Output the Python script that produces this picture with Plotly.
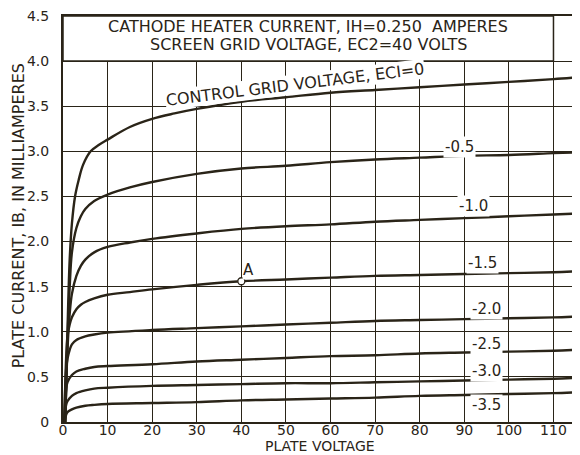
import plotly.graph_objects as go

# Plate voltage sample points (volts) for each control-grid curve
x_ec0 = [0.5, 1.0, 1.5, 2.0, 2.7, 3.5, 4.5, 6.2, 8, 10, 15, 20, 25, 30, 40, 50, 60, 70, 80, 90, 100, 110, 115.5]
y_ec0 = [0.0, 1.0, 1.8, 2.2, 2.5, 2.68, 2.85, 3.0, 3.07, 3.13, 3.27, 3.36, 3.42, 3.47, 3.55, 3.6, 3.65, 3.68, 3.71, 3.74, 3.77, 3.8, 3.82]

x_ec05 = [0.5, 1.0, 1.5, 2, 3, 4, 5, 7, 10, 15, 20, 30, 40, 50, 60, 70, 80, 90, 100, 110, 115.5]
y_ec05 = [0.0, 0.9, 1.5, 1.88, 2.15, 2.28, 2.36, 2.45, 2.52, 2.6, 2.66, 2.75, 2.81, 2.84, 2.88, 2.91, 2.93, 2.95, 2.96, 2.98, 2.99]

x_ec10 = [0.5, 1, 1.5, 2, 3, 4, 5, 7, 10, 15, 20, 30, 40, 50, 60, 70, 80, 90, 100, 110, 115.5]
y_ec10 = [0.0, 0.8, 1.2, 1.42, 1.62, 1.73, 1.8, 1.88, 1.94, 1.99, 2.03, 2.09, 2.14, 2.17, 2.19, 2.22, 2.24, 2.26, 2.28, 2.3, 2.31]

x_ec15 = [0.3, 0.7, 1, 1.5, 2, 3, 4, 5, 7, 10, 15, 20, 30, 40, 50, 60, 70, 80, 90, 100, 110, 115.5]
y_ec15 = [0.0, 0.7, 0.95, 1.08, 1.16, 1.25, 1.3, 1.33, 1.37, 1.41, 1.44, 1.47, 1.52, 1.56, 1.58, 1.6, 1.62, 1.63, 1.64, 1.65, 1.66, 1.67]

x_ec20 = [0.3, 0.7, 1, 1.5, 2, 3, 5, 7, 10, 20, 30, 40, 50, 60, 70, 80, 90, 100, 110, 115.5]
y_ec20 = [0.0, 0.58, 0.7, 0.8, 0.86, 0.91, 0.95, 0.97, 0.99, 1.02, 1.04, 1.06, 1.08, 1.1, 1.12, 1.13, 1.14, 1.15, 1.16, 1.17]

x_ec25 = [0.3, 0.7, 1, 2, 3, 5, 7, 10, 20, 30, 40, 50, 60, 70, 80, 90, 100, 110, 115.5]
y_ec25 = [0.0, 0.36, 0.44, 0.52, 0.56, 0.59, 0.61, 0.62, 0.64, 0.67, 0.69, 0.71, 0.73, 0.74, 0.76, 0.77, 0.78, 0.79, 0.8]

x_ec30 = [0.3, 0.7, 1, 2, 3, 5, 7, 10, 20, 30, 40, 50, 60, 70, 80, 90, 100, 110, 115.5]
y_ec30 = [0.0, 0.19, 0.23, 0.29, 0.32, 0.35, 0.37, 0.38, 0.4, 0.41, 0.42, 0.43, 0.43, 0.44, 0.45, 0.46, 0.47, 0.48, 0.49]

x_ec35 = [0.3, 0.7, 1, 2, 3, 5, 7, 10, 20, 30, 40, 50, 60, 70, 80, 90, 100, 110, 115.5]
y_ec35 = [0.0, 0.08, 0.11, 0.14, 0.16, 0.18, 0.19, 0.2, 0.21, 0.22, 0.24, 0.25, 0.26, 0.27, 0.29, 0.3, 0.31, 0.32, 0.33]

curves = [
    (x_ec0, y_ec0), (x_ec05, y_ec05), (x_ec10, y_ec10), (x_ec15, y_ec15),
    (x_ec20, y_ec20), (x_ec25, y_ec25), (x_ec30, y_ec30), (x_ec35, y_ec35),
]

# Curve labels: text, x, y
label_texts = ["-0.5", "-1.0", "-1.5", "-2.0", "-2.5", "-3.0", "-3.5"]
label_x = [89, 92, 94, 95, 95, 95, 95]
label_y = [3.05, 2.39, 1.76, 1.25, 0.87, 0.57, 0.19]

# Point A
point_a_x = [40]
point_a_y = [1.56]

x_ticks = [0, 10, 20, 30, 40, 50, 60, 70, 80, 90, 100, 110]
y_ticks = [0, 0.5, 1.0, 1.5, 2.0, 2.5, 3.0, 3.5, 4.0, 4.5]
y_tick_text = ["0", "0.5", "1.0", "1.5", "2.0", "2.5", "3.0", "3.5", "4.0", "4.5"]

title_line1 = "CATHODE HEATER CURRENT, IH=0.250  AMPERES"
title_line2 = "SCREEN GRID VOLTAGE, EC2=40 VOLTS"
curve0_label = "CONTROL GRID VOLTAGE, ECI=0"
x_title = "PLATE VOLTAGE"
y_title = "PLATE CURRENT, IB, IN MILLIAMPERES"

INK = "#2a2418"
FONT = "DejaVu Sans"

fig = go.Figure()
for xs, ys in curves:
    fig.add_trace(go.Scatter(x=xs, y=ys, mode="lines", line=dict(color=INK, width=2.4, shape="spline", smoothing=1.0),
                             hoverinfo="skip", showlegend=False))

fig.add_trace(go.Scatter(x=point_a_x, y=point_a_y, mode="markers",
                         marker=dict(symbol="circle", size=7, color="white", line=dict(color=INK, width=1.3)),
                         showlegend=False, hoverinfo="skip"))

# The page body has an 8px margin, so the figure is sized/margined to land the plot at the reference position
fig.update_layout(
    width=572, height=447,
    margin=dict(l=55, r=2, t=8, b=33),
    paper_bgcolor="white", plot_bgcolor="white",
    font=dict(family=FONT, color=INK, size=13),
    xaxis=dict(range=[0, 115.5], tickvals=x_ticks, showgrid=True, gridcolor=INK, gridwidth=1.3,
               showline=True, linecolor=INK, linewidth=2, mirror=True, zeroline=False, automargin=False,
               ticks="", ticklen=0, ticklabelstandoff=-6, ticklabeloverflow="allow",
               tickfont=dict(size=14, family=FONT, color=INK)),
    yaxis=dict(range=[0, 4.5], tickvals=y_ticks, ticktext=y_tick_text, showgrid=True, gridcolor=INK, gridwidth=1.3,
               showline=True, linecolor=INK, linewidth=2, mirror=True, zeroline=False, automargin=False,
               ticks="", ticklen=0, ticklabelstandoff=9, ticklabeloverflow="allow",
               tickfont=dict(size=14, family=FONT, color=INK)),
)

# Axis titles
fig.add_annotation(x=0.499, y=-0.06, xref="paper", yref="paper", text=x_title, showarrow=False,
                   yanchor="middle", font=dict(size=14, family=FONT, color=INK))
fig.add_annotation(x=-0.087, y=0.507, xref="paper", yref="paper", text=y_title, showarrow=False,
                   textangle=-90, xanchor="center", font=dict(size=16, family=FONT, color=INK))

# Title box
fig.add_shape(type="rect", x0=0, x1=110, y0=4.0, y1=4.5, xref="x", yref="y",
              fillcolor="white", line=dict(color=INK, width=1.5), layer="above")
fig.add_annotation(x=55, y=4.385, xref="x", yref="y", text=title_line1, showarrow=False,
                   font=dict(size=16, family=FONT, color=INK))
fig.add_annotation(x=55, y=4.18, xref="x", yref="y", text=title_line2, showarrow=False,
                   font=dict(size=16, family=FONT, color=INK))

fig.add_annotation(x=52, y=3.74, xref="x", yref="y", text=curve0_label, showarrow=False, textangle=-7,
                   font=dict(size=16, family=FONT, color=INK), bgcolor="white", borderpad=0)

for t, lx, ly in zip(label_texts, label_x, label_y):
    fig.add_annotation(x=lx, y=ly, xref="x", yref="y", text=t, showarrow=False,
                       font=dict(size=15, family=FONT, color=INK), bgcolor="white", borderpad=1)

fig.add_annotation(x=point_a_x[0] + 1.5, y=point_a_y[0] + 0.12, xref="x", yref="y", text="A", showarrow=False,
                   font=dict(size=15, family=FONT, color=INK), bgcolor="white", borderpad=0)

fig.write_html("out.html")
